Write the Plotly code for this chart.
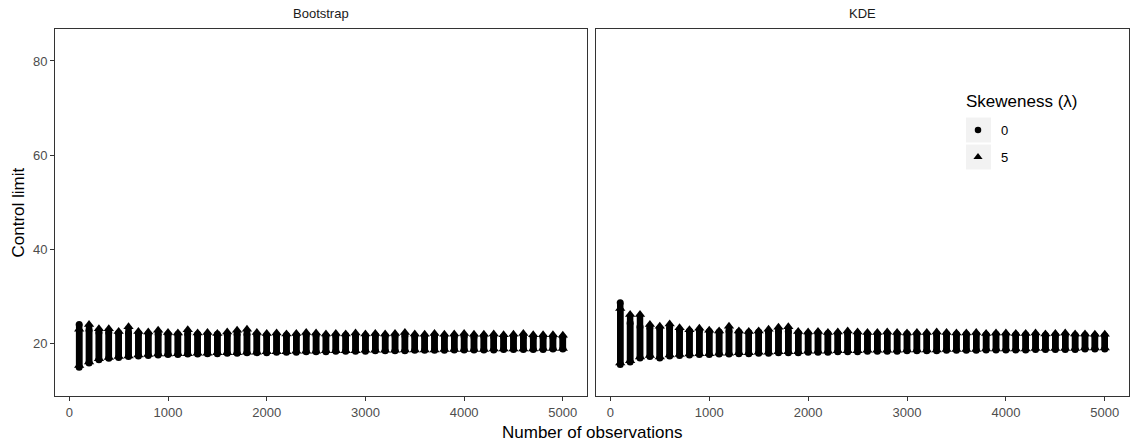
import plotly.graph_objects as go

# ---------------- data ----------------
n_obs = [100, 200, 300, 400, 500, 600, 700, 800, 900, 1000,
         1100, 1200, 1300, 1400, 1500, 1600, 1700, 1800, 1900, 2000,
         2100, 2200, 2300, 2400, 2500, 2600, 2700, 2800, 2900, 3000,
         3100, 3200, 3300, 3400, 3500, 3600, 3700, 3800, 3900, 4000,
         4100, 4200, 4300, 4400, 4500, 4600, 4700, 4800, 4900, 5000]

boot_l0_max = [24.0, 22.8, 22.3, 22.3, 22.2, 22.2, 22.1, 22.0, 22.0, 21.9,
               21.9, 22.0, 21.9, 21.8, 21.9, 21.8, 21.9, 21.9, 21.8, 21.7,
               21.8, 21.7, 21.7, 21.8, 21.7, 21.6, 21.6, 21.7, 21.6, 21.6,
               21.7, 21.6, 21.6, 21.6, 21.5, 21.5, 21.6, 21.5, 21.5, 21.5,
               21.4, 21.5, 21.4, 21.4, 21.4, 21.4, 21.3, 21.3, 21.3, 21.3]
boot_l0_min = [14.9, 15.8, 16.5, 16.8, 17.0, 17.2, 17.3, 17.4, 17.5, 17.6,
               17.6, 17.7, 17.7, 17.8, 17.8, 17.9, 17.9, 18.0, 18.0, 18.0,
               18.1, 18.1, 18.1, 18.2, 18.2, 18.2, 18.3, 18.3, 18.3, 18.3,
               18.4, 18.4, 18.4, 18.4, 18.5, 18.5, 18.5, 18.5, 18.6, 18.6,
               18.6, 18.6, 18.6, 18.7, 18.7, 18.7, 18.7, 18.7, 18.8, 18.8]
boot_l5_max = [23.0, 24.0, 23.1, 23.1, 22.5, 23.5, 22.5, 22.4, 22.8, 22.3,
               22.2, 22.9, 22.2, 22.3, 22.1, 22.4, 22.8, 23.0, 22.3, 22.1,
               22.2, 22.0, 22.1, 22.3, 22.2, 22.0, 22.1, 22.0, 22.2, 22.0,
               22.1, 22.0, 22.1, 22.3, 22.0, 21.9, 22.1, 21.9, 22.0, 22.1,
               21.9, 21.9, 22.0, 21.8, 21.9, 22.1, 21.8, 21.8, 21.8, 21.7]
boot_l5_min = [15.3, 16.0, 16.7, 17.0, 17.2, 17.3, 17.5, 17.6, 17.7, 17.7,
               17.8, 17.8, 17.9, 17.9, 18.0, 18.0, 18.0, 18.1, 18.1, 18.2,
               18.2, 18.2, 18.3, 18.3, 18.3, 18.4, 18.4, 18.4, 18.4, 18.5,
               18.5, 18.5, 18.5, 18.6, 18.6, 18.6, 18.6, 18.7, 18.7, 18.7,
               18.7, 18.7, 18.8, 18.8, 18.8, 18.8, 18.8, 18.9, 18.9, 18.9]

kde_l0_max = [28.6, 24.3, 23.5, 23.3, 23.2, 23.3, 22.8, 22.6, 22.7, 22.5,
              22.4, 22.6, 22.4, 22.3, 22.4, 22.4, 22.5, 22.5, 22.2, 22.1,
              22.2, 22.1, 22.1, 22.2, 22.1, 22.0, 22.0, 22.1, 22.0, 22.0,
              22.0, 21.9, 22.0, 22.0, 21.9, 21.9, 21.9, 21.8, 21.9, 21.8,
              21.8, 21.8, 21.8, 21.7, 21.7, 21.8, 21.7, 21.7, 21.6, 21.6]
kde_l0_min = [15.5, 16.0, 16.9, 17.2, 16.9, 17.3, 17.4, 17.5, 17.6, 17.6,
              17.7, 17.7, 17.8, 17.8, 17.9, 17.9, 18.0, 18.0, 18.0, 18.1,
              18.1, 18.1, 18.2, 18.2, 18.2, 18.3, 18.3, 18.3, 18.3, 18.4,
              18.4, 18.4, 18.4, 18.5, 18.5, 18.5, 18.5, 18.6, 18.6, 18.6,
              18.6, 18.6, 18.7, 18.7, 18.7, 18.7, 18.7, 18.8, 18.8, 18.8]
kde_l5_max = [27.4, 26.1, 26.1, 24.0, 23.6, 24.1, 23.3, 22.9, 23.2, 22.8,
              22.6, 23.6, 22.6, 22.5, 22.6, 23.0, 23.4, 23.5, 22.5, 22.4,
              22.5, 22.3, 22.4, 22.6, 22.4, 22.3, 22.3, 22.4, 22.3, 22.2,
              22.3, 22.3, 22.4, 22.3, 22.2, 22.2, 22.3, 22.1, 22.2, 22.2,
              22.1, 22.1, 22.2, 22.0, 22.1, 22.2, 22.0, 22.0, 21.9, 21.9]
kde_l5_min = [15.8, 16.3, 17.1, 17.4, 17.1, 17.5, 17.6, 17.7, 17.8, 17.8,
              17.9, 17.9, 18.0, 18.0, 18.1, 18.1, 18.2, 18.2, 18.2, 18.3,
              18.3, 18.3, 18.4, 18.4, 18.4, 18.5, 18.5, 18.5, 18.5, 18.6,
              18.6, 18.6, 18.6, 18.7, 18.7, 18.7, 18.7, 18.8, 18.8, 18.8,
              18.8, 18.8, 18.9, 18.9, 18.9, 18.9, 18.9, 19.0, 19.0, 19.0]

panel_names = ["Bootstrap", "KDE"]
skew_levels = ["0", "5"]
x_ticks = [0, 1000, 2000, 3000, 4000, 5000]
y_ticks = [20, 40, 60, 80]

# ---------------- figure ----------------
W, H = 1131, 444
FONT = "Liberation Sans, Arial, sans-serif"


def columns(xs, lo, hi):
    """Build a segmented path: one vertical column per x value."""
    px, py = [], []
    for x, a, b in zip(xs, lo, hi):
        px += [x, x, None]
        py += [a, b, None]
    return px, py


fig = go.Figure()

COL_W = 6.5
CIRC = 7
TRI = 9

panels = [
    ("x", "y", boot_l0_min, boot_l0_max, boot_l5_min, boot_l5_max),
    ("x2", "y2", kde_l0_min, kde_l0_max, kde_l5_min, kde_l5_max),
]
for xa, ya, l0lo, l0hi, l5lo, l5hi in panels:
    px, py = columns(n_obs, l0lo, l0hi)
    fig.add_trace(go.Scatter(x=px, y=py, xaxis=xa, yaxis=ya, mode="lines+markers",
                             line=dict(color="black", width=COL_W),
                             marker=dict(symbol="circle", size=CIRC, color="black"),
                             showlegend=False, hoverinfo="skip"))
    px, py = columns(n_obs, l5lo, l5hi)
    fig.add_trace(go.Scatter(x=px, y=py, xaxis=xa, yaxis=ya, mode="lines+markers",
                             line=dict(color="black", width=COL_W),
                             marker=dict(symbol="triangle-up", size=TRI, color="black"),
                             showlegend=False, hoverinfo="skip"))

# legend keys on a full-figure pixel axis
LEG_X = 978
LEG_Y = [130, 157]
fig.add_trace(go.Scatter(x=[LEG_X], y=[LEG_Y[0]], xaxis="x3", yaxis="y3", mode="markers",
                         marker=dict(symbol="circle", size=6.5, color="black"),
                         showlegend=False, hoverinfo="skip"))
fig.add_trace(go.Scatter(x=[LEG_X], y=[LEG_Y[1]], xaxis="x3", yaxis="y3", mode="markers",
                         marker=dict(symbol="triangle-up", size=8, color="black"),
                         showlegend=False, hoverinfo="skip"))

# geometry (pixels)
L1, R1 = 55, 587
L2, R2 = 596, 1129
TOP, BOT = 29, 396

xrange_ = [-145, 5245]
yrange_ = [8.8, 86.8]

axis_common = dict(showgrid=False, zeroline=False, showline=True, mirror=True,
                   linecolor="#333333", linewidth=1,
                   ticks="outside", ticklen=4, tickwidth=1, tickcolor="#333333",
                   tickfont=dict(family=FONT, size=13, color="#4d4d4d"))

fig.update_layout(
    width=W, height=H,
    margin=dict(l=0, r=0, t=0, b=0),
    paper_bgcolor="white", plot_bgcolor="rgba(0,0,0,0)",
    font=dict(family=FONT),
    xaxis=dict(domain=[L1 / W, R1 / W], range=xrange_, tickvals=x_ticks,
               anchor="y", **axis_common),
    yaxis=dict(domain=[1 - BOT / H, 1 - TOP / H], range=yrange_, tickvals=y_ticks,
               anchor="x", **axis_common),
    xaxis2=dict(domain=[L2 / W, R2 / W], range=xrange_, tickvals=x_ticks,
                anchor="y2", **axis_common),
    yaxis2=dict(domain=[1 - BOT / H, 1 - TOP / H], range=yrange_, tickvals=y_ticks,
                anchor="x2", **{**axis_common, "ticks": "", "showticklabels": False}),
    xaxis3=dict(domain=[0, 1], range=[0, W], visible=False, anchor="y3", fixedrange=True),
    yaxis3=dict(domain=[0, 1], range=[H, 0], visible=False, anchor="x3", fixedrange=True),
    showlegend=False,
)

# legend key backgrounds
for yc in LEG_Y:
    fig.add_shape(type="rect", xref="paper", yref="paper",
                  x0=966 / W, x1=991 / W, y0=1 - (yc + 12.5) / H, y1=1 - (yc - 12.5) / H,
                  fillcolor="#f2f2f2", line=dict(width=0), layer="below")

ann = []
# strip labels
for name, (l, r) in zip(panel_names, [(L1, R1), (L2, R2)]):
    ann.append(dict(x=(l + r) / 2 / W, y=1 - 13 / H, xref="paper", yref="paper",
                    xanchor="center", yanchor="middle",
                    text=name, showarrow=False,
                    font=dict(family=FONT, size=13, color="#1a1a1a")))
# axis titles
ann.append(dict(x=(L1 + R2) / 2 / W, y=1 - 432 / H, xref="paper", yref="paper",
                xanchor="center", yanchor="middle",
                text="Number of observations", showarrow=False,
                font=dict(family=FONT, size=17, color="black")))
ann.append(dict(x=18 / W, y=1 - (TOP + BOT) / 2 / H, xref="paper", yref="paper",
                xanchor="center", yanchor="middle",
                text="Control limit", showarrow=False, textangle=-90,
                font=dict(family=FONT, size=17, color="black")))
# legend title and labels
ann.append(dict(x=964 / W, y=1 - 101 / H, xref="paper", yref="paper",
                xanchor="left", yanchor="middle",
                text="Skeweness (λ)", showarrow=False,
                font=dict(family=FONT, size=17, color="black")))
for lab, yc in zip(skew_levels, LEG_Y):
    ann.append(dict(x=999 / W, y=1 - yc / H, xref="paper", yref="paper",
                    xanchor="left", yanchor="middle",
                    text=lab, showarrow=False,
                    font=dict(family=FONT, size=13, color="black")))
fig.update_layout(annotations=ann)

fig.write_html("out.html")
